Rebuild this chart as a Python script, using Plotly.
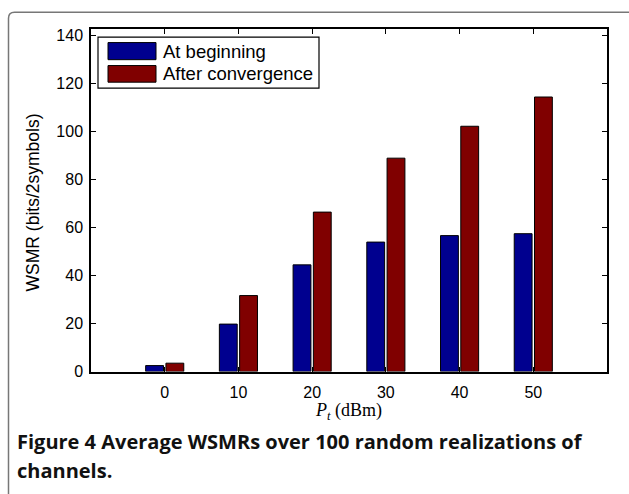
import plotly.graph_objects as go

# ---- data ----
power_dbm = [0, 10, 20, 30, 40, 50]
at_beginning = [2.5, 19.8, 44.5, 54.0, 56.7, 57.5]
after_convergence = [3.5, 31.7, 66.5, 89.0, 102.3, 114.5]
series_names = ["At beginning", "After convergence"]
y_ticks = [0, 20, 40, 60, 80, 100, 120, 140]

W, H = 629, 494
BLUE = "#00008F"
RED = "#800000"

def px(x):
    return x / W

def py(y):
    return 1 - y / H

fig = go.Figure()
fig.add_trace(go.Bar(x=power_dbm, y=at_beginning, name=series_names[0],
                     marker=dict(color=BLUE, line=dict(color="black", width=1)),
                     showlegend=False))
fig.add_trace(go.Bar(x=power_dbm, y=after_convergence, name=series_names[1],
                     marker=dict(color=RED, line=dict(color="black", width=1)),
                     showlegend=False))

tickfont = dict(family="Liberation Sans, Arial, sans-serif", size=16, color="black")

fig.update_layout(
    width=W, height=H,
    margin=dict(l=0, r=0, t=0, b=0),
    paper_bgcolor="white", plot_bgcolor="white",
    barmode="group", bargap=0.45, bargroupgap=0.12,
    xaxis=dict(domain=[px(91), px(607)], range=[-10, 60],
               tickvals=power_dbm, ticktext=[str(v) for v in power_dbm],
               ticks="inside", ticklen=5, tickcolor="black", tickwidth=1,
               ticklabelstandoff=5,
               showline=True, linecolor="black", linewidth=1.5, mirror="allticks",
               showgrid=False, zeroline=False, tickfont=tickfont),
    yaxis=dict(domain=[py(378), py(28)], range=[0, 142.7],
               tickvals=y_ticks,
               ticks="inside", ticklen=5, tickcolor="black", tickwidth=1,
               ticklabelstandoff=3,
               showline=True, linecolor="black", linewidth=1.5, mirror="allticks",
               showgrid=False, zeroline=False, tickfont=tickfont),
    showlegend=False,
)

shapes = []
annotations = []

# outer rounded frame
rx, ry = 6 / W, 6 / H
x0, y0 = px(8.5), py(10.5)
shapes.append(dict(
    type="path", xref="paper", yref="paper",
    path=(f"M {x0},-0.05 L {x0},{y0 - ry} Q {x0},{y0} {x0 + rx},{y0} L 1.05,{y0}"),
    line=dict(color="#777777", width=1.5),
))

# legend box
shapes.append(dict(type="rect", xref="paper", yref="paper",
                   x0=px(98), x1=px(319), y0=py(88), y1=py(36),
                   line=dict(color="black", width=1.2), fillcolor="white"))
legend_rows = [(41.5, 59, BLUE), (65, 82, RED)]
for name, (ya, yb, col) in zip(series_names, legend_rows):
    shapes.append(dict(type="rect", xref="paper", yref="paper",
                       x0=px(108), x1=px(156), y0=py(yb), y1=py(ya),
                       line=dict(color="black", width=1), fillcolor=col))
    annotations.append(dict(xref="paper", yref="paper", x=px(161), y=py((ya + yb) / 2),
                            text=name, showarrow=False, xanchor="left", yanchor="middle",
                            font=dict(family="Liberation Sans, Arial, sans-serif", size=18.5, color="black")))

# axis titles
annotations.append(dict(xref="paper", yref="paper", x=px(33), y=py(205),
                        text="WSMR (bits/2symbols)", showarrow=False, textangle=-90,
                        xanchor="center", yanchor="middle",
                        font=dict(family="Liberation Sans, Arial, sans-serif", size=17.5, color="black")))
annotations.append(dict(xref="paper", yref="paper", x=px(349), y=py(419),
                        text="<i>P</i><sub><i>t</i></sub> (dBm)", showarrow=False,
                        xanchor="center", yanchor="middle",
                        font=dict(family="Liberation Serif, Times New Roman, serif", size=18, color="black")))

# caption
capfont = dict(family="Open Sans, Noto Sans, sans-serif", size=20, color="#111111")
annotations.append(dict(xref="paper", yref="paper", x=px(15), y=py(449),
                        text="<b>Figure 4</b> <b>Average WSMRs over 100 random realizations of</b>",
                        showarrow=False, xanchor="left", yanchor="middle", font=capfont))
annotations.append(dict(xref="paper", yref="paper", x=px(15), y=py(479),
                        text="<b>channels.</b>",
                        showarrow=False, xanchor="left", yanchor="middle", font=capfont))

fig.update_layout(shapes=shapes, annotations=annotations)
fig.write_html("out.html")
